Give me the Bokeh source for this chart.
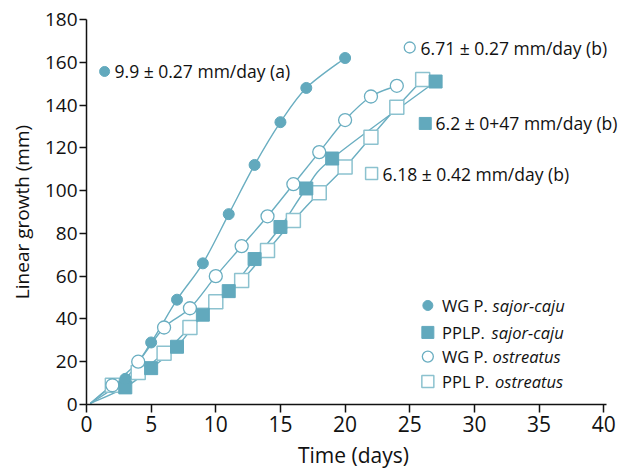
import numpy as np
from bokeh.plotting import figure
from bokeh.embed import file_html
from bokeh.resources import INLINE
from bokeh.core.properties import value
from bokeh.models import FixedTicker

# ---- data ----
wg_saj_x = [3, 5, 7, 9, 11, 13, 15, 17, 20]
wg_saj_y = [12, 29, 49, 66, 89, 112, 132, 148, 162]

ppl_saj_x = [3, 5, 7, 9, 11, 13, 15, 17, 19, 27]
ppl_saj_y = [8, 17, 27, 42, 53, 68, 83, 101, 115, 151]

wg_ost_x = [2, 4, 6, 8, 10, 12, 14, 16, 18, 20, 22, 24]
wg_ost_y = [9, 20, 36, 45, 60, 74, 88, 103, 118, 133, 144, 149]

ppl_ost_x = [2, 4, 6, 8, 10, 12, 14, 16, 18, 20, 22, 24, 26]
ppl_ost_y = [9, 15, 24, 36, 48, 58, 72, 86, 99, 111, 125, 139, 152]

start_x = 0.3
start_y = 0.5

x_ticks = [0, 5, 10, 15, 20, 25, 30, 35, 40]
y_ticks = [0, 20, 40, 60, 80, 100, 120, 140, 160, 180]

rate_labels = ["9.9 ± 0.27 mm/day (a)", "6.71 ± 0.27 mm/day (b)",
               "6.2 ± 0+47 mm/day (b)", "6.18 ± 0.42 mm/day (b)"]
legend_plain = ["WG P. ", "PPLP. ", "WG P. ", "PPL P. "]
legend_italic = ["sajor-caju", "sajor-caju", "ostreatus", "ostreatus"]

FONT = "Open Sans"
INK = "#111111"
DARK = "#62a9bd"
LINE = "#6aaec1"
LIGHT = "#8cc2cf"

p = figure(width=621, height=471, x_range=(0, 41.3), y_range=(0, 180),
           output_backend="svg", toolbar_location=None,
           min_border_left=86, min_border_right=1, min_border_top=19,
           min_border_bottom=67)
p.outline_line_color = None
p.xgrid.visible = False
p.ygrid.visible = False

for ax in (p.xaxis[0], p.yaxis[0]):
    ax.axis_line_color = INK
    ax.axis_line_width = 1.5
    ax.major_tick_line_color = INK
    ax.major_tick_line_width = 1.5
    ax.major_tick_in = 0
    ax.minor_tick_line_color = None
    ax.major_label_text_font = FONT
    ax.axis_label_text_font = FONT
    ax.axis_label_text_font_style = "normal"
    ax.major_label_text_color = INK
    ax.axis_label_text_color = INK

p.xaxis.bounds = (0, 40.2)
p.xaxis.ticker = FixedTicker(ticks=x_ticks)
p.yaxis.ticker = FixedTicker(ticks=y_ticks)
p.xaxis.major_tick_out = 8
p.yaxis.major_tick_out = 7
p.xaxis.major_label_text_font_size = "21px"
p.yaxis.major_label_text_font_size = "19px"
p.xaxis.major_label_standoff = 3
p.yaxis.major_label_standoff = 2
p.xaxis.axis_label = "Time (days)"
p.yaxis.axis_label = "Linear growth (mm)"
p.xaxis.axis_label_text_font_size = "21px"
p.yaxis.axis_label_text_font_size = "19px"
p.xaxis.axis_label_standoff = 6
p.yaxis.axis_label_standoff = 7


def smooth(xs, ys):
    """Catmull-Rom segments through the data points, drawn as Bezier curves."""
    P = np.column_stack([xs, ys]).astype(float)
    Pp = np.vstack([P[0], P, P[-1]])
    x0, y0 = P[:-1, 0], P[:-1, 1]
    x1, y1 = P[1:, 0], P[1:, 1]
    c0 = Pp[1:-2] + (Pp[2:-1] - Pp[0:-3]) / 6.0
    c1 = Pp[2:-1] - (Pp[3:] - Pp[1:-2]) / 6.0
    p.bezier(x0=x0, y0=y0, x1=x1, y1=y1, cx0=c0[:, 0], cy0=c0[:, 1],
             cx1=c1[:, 0], cy1=c1[:, 1], line_color=LINE, line_width=1.4)


series = [
    (wg_saj_x, wg_saj_y),
    (ppl_saj_x, ppl_saj_y),
    (wg_ost_x, wg_ost_y),
    (ppl_ost_x, ppl_ost_y),
]
for xs, ys in series:
    smooth([start_x] + xs, [start_y] + ys)

p.scatter(ppl_ost_x, ppl_ost_y, marker="square", size=14, fill_color="white",
          line_color=LIGHT, line_width=1.5)
p.scatter(wg_ost_x, wg_ost_y, marker="circle", size=13, fill_color="white",
          line_color=LINE, line_width=1.3)
p.scatter(ppl_saj_x, ppl_saj_y, marker="square", size=13, fill_color=DARK,
          line_color=DARK)
p.scatter(wg_saj_x, wg_saj_y, marker="circle", size=11, fill_color=DARK,
          line_color=DARK)

filled_circle = dict(marker="circle", size=10, fill_color=DARK, line_color=DARK)
open_circle = dict(marker="circle", size=11, fill_color="white", line_color=LINE, line_width=1.3)
filled_square = dict(marker="square", size=12, fill_color=DARK, line_color=DARK)
open_square = dict(marker="square", size=12, fill_color="white", line_color=LIGHT, line_width=1.5)

# ---- rate annotations ----
ann_mx = [1.4, 25.0, 26.2, 22.05]
ann_my = [155.7, 166.9, 131.4, 108.0]
ann_tx = [2.17, 25.84, 27.0, 22.9]
ann_styles = [filled_circle, open_circle, filled_square, open_square]
for i in range(4):
    p.scatter([ann_mx[i]], [ann_my[i]], **ann_styles[i])
p.text(ann_tx, ann_my, text=rate_labels, text_font=value(FONT),
       text_font_size="17.5px", text_baseline="middle", text_align="left",
       text_color=INK)

# ---- legend (manual, with italic species names) ----
leg_mx = 26.4
leg_y = [46.3, 33.7, 22.4, 10.8]
leg_tx = 27.5
leg_ix = [31.41, 31.33, 31.41, 31.6]
leg_styles = [filled_circle, filled_square, open_circle, open_square]
for i in range(4):
    p.scatter([leg_mx], [leg_y[i]], **leg_styles[i])
p.text([leg_tx] * 4, leg_y, text=legend_plain, text_font=value(FONT),
       text_font_size="16.5px", text_baseline="middle", text_align="left",
       text_color=INK)
p.text(leg_ix, leg_y, text=legend_italic, text_font=value(FONT),
       text_font_size="16.5px", text_font_style="italic", text_baseline="middle",
       text_align="left", text_color=INK)

open("out.html", "w").write(file_html(p, INLINE))
